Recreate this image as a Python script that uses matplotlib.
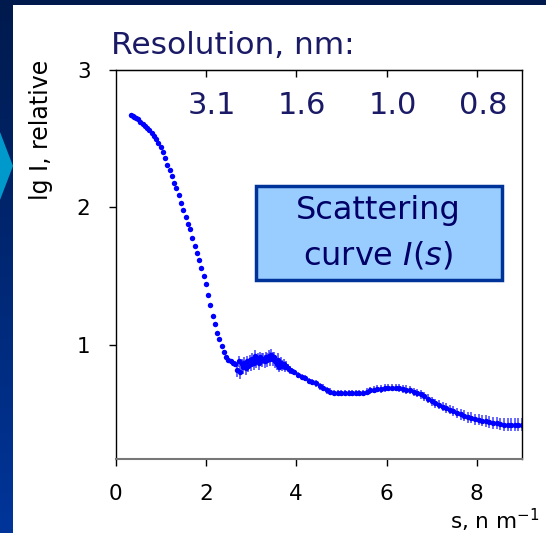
import matplotlib
matplotlib.use('Agg')
import matplotlib.pyplot as plt
from matplotlib.patches import Rectangle, Polygon
import matplotlib.transforms as mtransforms
import numpy as np

plt.rcParams['mathtext.fontset'] = 'dejavusans'

# scattering curve
s_vals = [0.34, 0.38, 0.42, 0.46, 0.50, 0.55, 0.60, 0.65, 0.70, 0.75,
          0.80, 0.85, 0.90, 0.95, 1.00, 1.05, 1.10, 1.15, 1.20, 1.25,
          1.30, 1.35, 1.40, 1.45, 1.50, 1.55, 1.60, 1.65, 1.70, 1.75,
          1.80, 1.85, 1.90, 1.95, 2.00, 2.05, 2.10, 2.15, 2.20, 2.25,
          2.30, 2.35, 2.40, 2.45, 2.50, 2.55, 2.60, 2.65,
          2.70, 2.73, 2.76, 2.79, 2.82, 2.85, 2.88, 2.91, 2.94, 2.97,
          3.00, 3.03, 3.06, 3.09, 3.12, 3.15, 3.18, 3.21, 3.24, 3.27,
          3.30, 3.33, 3.36, 3.39, 3.42, 3.45, 3.48, 3.51, 3.54, 3.57,
          3.60, 3.63, 3.66, 3.69, 3.72, 3.75, 3.78, 3.82, 3.86, 3.90,
          3.96, 4.04, 4.12, 4.20, 4.28, 4.36, 4.44, 4.52, 4.60, 4.68,
          4.76, 4.84, 4.92, 5.00, 5.08, 5.16, 5.24, 5.32, 5.40, 5.48,
          5.56, 5.64, 5.72, 5.80, 5.88, 5.96, 6.04, 6.12, 6.20, 6.28,
          6.36, 6.44, 6.52, 6.60, 6.68, 6.76, 6.84, 6.92, 7.00, 7.08,
          7.16, 7.24, 7.32, 7.40, 7.48, 7.56, 7.64, 7.72, 7.80, 7.88,
          7.96, 8.04, 8.12, 8.20, 8.28, 8.36, 8.44, 8.52, 8.60, 8.68,
          8.76, 8.84, 8.92, 9.00]
lg_i = [2.67, 2.665, 2.66, 2.65, 2.64, 2.625, 2.61, 2.595, 2.58, 2.56,
        2.54, 2.52, 2.50, 2.47, 2.44, 2.40, 2.36, 2.31, 2.27, 2.23,
        2.18, 2.14, 2.09, 2.03, 1.98, 1.93, 1.88, 1.84, 1.78, 1.72,
        1.67, 1.62, 1.56, 1.50, 1.44, 1.36, 1.29, 1.21, 1.15, 1.09,
        1.04, 0.99, 0.95, 0.91, 0.89, 0.88, 0.87, 0.86,
        0.82, 0.88, 0.80, 0.86, 0.84, 0.87, 0.83, 0.88, 0.85, 0.89,
        0.86, 0.90, 0.87, 0.92, 0.88, 0.90, 0.87, 0.91, 0.89, 0.90,
        0.88, 0.91, 0.89, 0.92, 0.90, 0.93, 0.90, 0.91, 0.88, 0.86,
        0.89, 0.84, 0.87, 0.85, 0.86, 0.84, 0.85, 0.83, 0.82, 0.81,
        0.80, 0.78, 0.77, 0.76, 0.74, 0.73, 0.72, 0.70, 0.69, 0.67,
        0.66, 0.65, 0.65, 0.65, 0.65, 0.65, 0.65, 0.65, 0.65, 0.65,
        0.66, 0.67, 0.675, 0.68, 0.68, 0.685, 0.69, 0.69, 0.69, 0.685,
        0.68, 0.675, 0.67, 0.66, 0.65, 0.64, 0.625, 0.61, 0.59, 0.575,
        0.565, 0.55, 0.54, 0.53, 0.52, 0.505, 0.495, 0.485, 0.475, 0.47,
        0.46, 0.455, 0.45, 0.445, 0.44, 0.435, 0.43, 0.425, 0.42, 0.42,
        0.42, 0.42, 0.42, 0.42]
lg_err = [0, 0, 0, 0, 0, 0, 0, 0, 0, 0,
          0, 0, 0, 0, 0, 0, 0, 0, 0, 0,
          0, 0, 0, 0, 0, 0, 0, 0, 0, 0,
          0, 0, 0, 0, 0, 0, 0, 0, 0, 0,
          0, 0, 0.01, 0.01, 0.015, 0.015, 0.02, 0.02,
          0.05, 0.04, 0.05, 0.04, 0.05, 0.04, 0.05, 0.04, 0.05, 0.04,
          0.05, 0.04, 0.05, 0.04, 0.05, 0.04, 0.05, 0.04, 0.05, 0.04,
          0.05, 0.04, 0.05, 0.04, 0.05, 0.04, 0.05, 0.04, 0.05, 0.04,
          0.05, 0.04, 0.04, 0.04, 0.04, 0.035, 0.03, 0.03, 0.03, 0.025,
          0.02, 0.02, 0.02, 0.02, 0.02, 0.025, 0.025, 0.025, 0.025, 0.025,
          0.025, 0.025, 0.025, 0.025, 0.025, 0.025, 0.025, 0.025, 0.025, 0.025,
          0.025, 0.025, 0.025, 0.025, 0.028, 0.028, 0.028, 0.028, 0.028, 0.028,
          0.03, 0.03, 0.03, 0.03, 0.03, 0.03, 0.032, 0.032, 0.032, 0.034,
          0.034, 0.034, 0.036, 0.036, 0.036, 0.038, 0.038, 0.038, 0.04, 0.04,
          0.04, 0.04, 0.042, 0.042, 0.042, 0.044, 0.044, 0.044, 0.045, 0.045,
          0.045, 0.045, 0.045, 0.045]

res_ticks = [2, 4, 6, 8]
res_labels = ['3.1', '1.6', '1.0', '0.8']
x_ticks = [0, 2, 4, 6, 8]
y_ticks = [1, 2, 3]

W, H = 546, 533
fig = plt.figure(figsize=(W / 100, H / 100), dpi=100, facecolor='white')

# slide background: dark band on top, gradient strip on the left, cyan arrow
grad = np.linspace(0, 1, 256).reshape(-1, 1)
bg = fig.add_axes([0, 0, 13 / W, 1])
bg.imshow(grad, aspect='auto', extent=[0, 1, 0, 1],
          cmap=matplotlib.colors.LinearSegmentedColormap.from_list(
              'slide', ['#001a4d', '#00359a']))
bg.set_axis_off()
fig.patches.append(Rectangle((0, 1 - 5 / H), 1, 5 / H, transform=fig.transFigure,
                             facecolor='#001a4d', edgecolor='none'))
fig.patches.append(Polygon([(0, 1 - 132 / H), (13 / W, 1 - 166 / H), (0, 1 - 200 / H)],
                           closed=True, transform=fig.transFigure,
                           facecolor='#0099cc', edgecolor='none'))

ax = fig.add_axes([115.5 / W, 1 - 459 / H, 406.5 / W, 389 / H])
ax.errorbar(s_vals, lg_i, yerr=lg_err, fmt='none', ecolor=(0.2, 0.2, 1, 0.8),
            elinewidth=1.3, capsize=0)
ax.plot(s_vals, lg_i, 'o', color='#0000ff', markersize=3.9, markeredgewidth=0)

ax.set_xlim(0, 9)
ax.set_ylim(0.17, 3)
ax.set_xticks(x_ticks)
ax.set_yticks(y_ticks)
ax.tick_params(axis='both', direction='out', length=5, width=1, labelsize=15.5, pad=13)
for sp in ['left', 'top', 'right']:
    ax.spines[sp].set_color('black')
    ax.spines[sp].set_linewidth(1)
ax.spines['bottom'].set_color('#777777')
ax.spines['bottom'].set_linewidth(1.5)

# resolution scale on top
top = ax.secondary_xaxis('top')
top.set_xticks(res_ticks)
top.set_xticklabels([])
top.tick_params(direction='in', length=5, width=1)
navy = '#1a1a66'
shift = mtransforms.offset_copy(ax.get_xaxis_transform(), fig=fig, x=6, y=0, units='dots')
for pos, lab in zip(res_ticks, res_labels):
    ax.text(pos, 0.91, lab, transform=shift, ha='center', va='center',
            fontsize=22, color=navy)

fig.text(111 / W, 1 - 54 / H, 'Resolution, nm:', fontsize=22.5, color=navy,
         ha='left', va='baseline')

# boxed label
ax.add_patch(Rectangle((0.345, 0.46), 0.605, 0.242, transform=ax.transAxes,
                       facecolor='#99ccff', edgecolor='#003399', linewidth=2.5))
ax.text(0.647, 0.639, 'Scattering', transform=ax.transAxes, ha='center',
        va='center', fontsize=23, color='#000066')
ax.text(0.647, 0.522, r'curve $\mathit{I(s)}$', transform=ax.transAxes,
        ha='center', va='center', fontsize=23, color='#000066')

fig.text(41 / W, 1 - 130 / H, 'lg I, relative', rotation=90, ha='center',
         va='center', fontsize=17, color='black')
fig.text(539 / W, 1 - 529 / H, r's, n m$^{\mathregular{-1}}$', ha='right',
         va='baseline', fontsize=15.5, color='black')

fig.savefig('out.png', dpi=100, facecolor=fig.get_facecolor())
